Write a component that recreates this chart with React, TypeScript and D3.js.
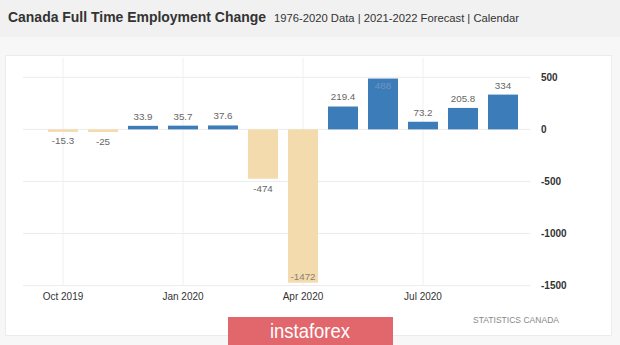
import React from "react";
import * as d3 from "d3";

const months = ["2019-10", "2019-11", "2019-12", "2020-01", "2020-02", "2020-03", "2020-04", "2020-05", "2020-06", "2020-07", "2020-08", "2020-09"];
const values = [-15.3, -25, 33.9, 35.7, 37.6, -474, -1472, 219.4, 488, 73.2, 205.8, 334];
const xTickMonths = ["2019-10", "2020-01", "2020-04", "2020-07"];
const xTickLabels = ["Oct 2019", "Jan 2020", "Apr 2020", "Jul 2020"];
const yTicks = [500, 0, -500, -1000, -1500];

const W = 620;
const H = 345;

export default function App() {
  const x = d3.scaleBand<string>().domain(months).range([38, 528]).padding(0.25);
  const y = d3.scaleLinear().domain([-1500, 500]).range([285.6, 77.3]);
  const plotTop = y(500);
  const plotBottom = y(-1500);
  const fmt = (v: number) => String(v);

  return (
    <div style={{ position: "fixed", left: 0, top: 0 }}>
      <svg width={W} height={H} style={{ display: "block", fontFamily: "'Liberation Sans', Arial, sans-serif" }}>
        <rect x={0} y={0} width={W} height={H} fill="#f7f7f7" />
        <rect x={0} y={0} width={W} height={37} fill="#f1f1f1" />
        <text x={8} y={22} fontSize={15} fontWeight="bold" fill="#333" textLength={258} lengthAdjust="spacingAndGlyphs">Canada Full Time Employment Change</text>
        <text x={274} y={21.5} fontSize={11.5} fill="#333" textLength={245} lengthAdjust="spacingAndGlyphs">1976-2020 Data | 2021-2022 Forecast | Calendar</text>

        <rect x={5.5} y={55.5} width={606} height={280} fill="#fff" stroke="#ececec" />

        {yTicks.map((t) => (
          <line key={"h" + t} x1={23} x2={530} y1={y(t)} y2={y(t)} stroke="#ececec" strokeWidth={1} />
        ))}
        {xTickMonths.map((m) => (
          <line key={"v" + m} x1={(x(m) ?? 0) + x.bandwidth() / 2} x2={(x(m) ?? 0) + x.bandwidth() / 2} y1={58} y2={plotBottom} stroke="#f0f0f0" strokeWidth={1} />
        ))}

        {values.map((v, i) => {
          const bx = x(months[i]) ?? 0;
          const y0 = y(0);
          const yv = y(v);
          return (
            <rect key={"b" + i} x={bx} y={Math.min(y0, yv)} width={x.bandwidth()} height={Math.max(Math.abs(yv - y0), 2.5)}
              fill={v >= 0 ? "#3b7cb9" : "#f3dbae"} />
          );
        })}

        {values.map((v, i) => {
          const cx = (x(months[i]) ?? 0) + x.bandwidth() / 2;
          const raw = v >= 0 ? y(v) - 9.5 : y(v) + 9.5;
          let cy = raw;
          let inside = false;
          if (raw < plotTop + 5) { cy = y(v) + 7; inside = true; }
          if (raw > plotBottom - 8) { cy = y(v) - 6; inside = true; }
          return (
            <text key={"l" + i} x={cx} y={cy} dy="0.35em" textAnchor="middle" fontSize={9.8}
              fill={inside ? (v >= 0 ? "#6f95c2" : "#8a8070") : "#666"}>{fmt(v)}</text>
          );
        })}

        {yTicks.map((t) => (
          <text key={"yl" + t} x={541} y={y(t)} dy="0.35em" fontSize={10} fontWeight="bold" fill="#333">{t}</text>
        ))}

        {xTickMonths.map((m, i) => (
          <text key={"xl" + m} x={(x(m) ?? 0) + x.bandwidth() / 2} y={296} dy="0.35em" textAnchor="middle" fontSize={10} fill="#333">{xTickLabels[i]}</text>
        ))}

        <text x={473} y={320} dy="0.35em" fontSize={9} fill="#888" textLength={86} lengthAdjust="spacingAndGlyphs">STATISTICS CANADA</text>

        <rect x={228} y={317} width={165} height={28} fill="#e2676c" />
        <text x={310} y={331} dy="0.35em" textAnchor="middle" fontSize={21} fill="#fff" textLength={80} lengthAdjust="spacingAndGlyphs">instaforex</text>
      </svg>
    </div>
  );
}
